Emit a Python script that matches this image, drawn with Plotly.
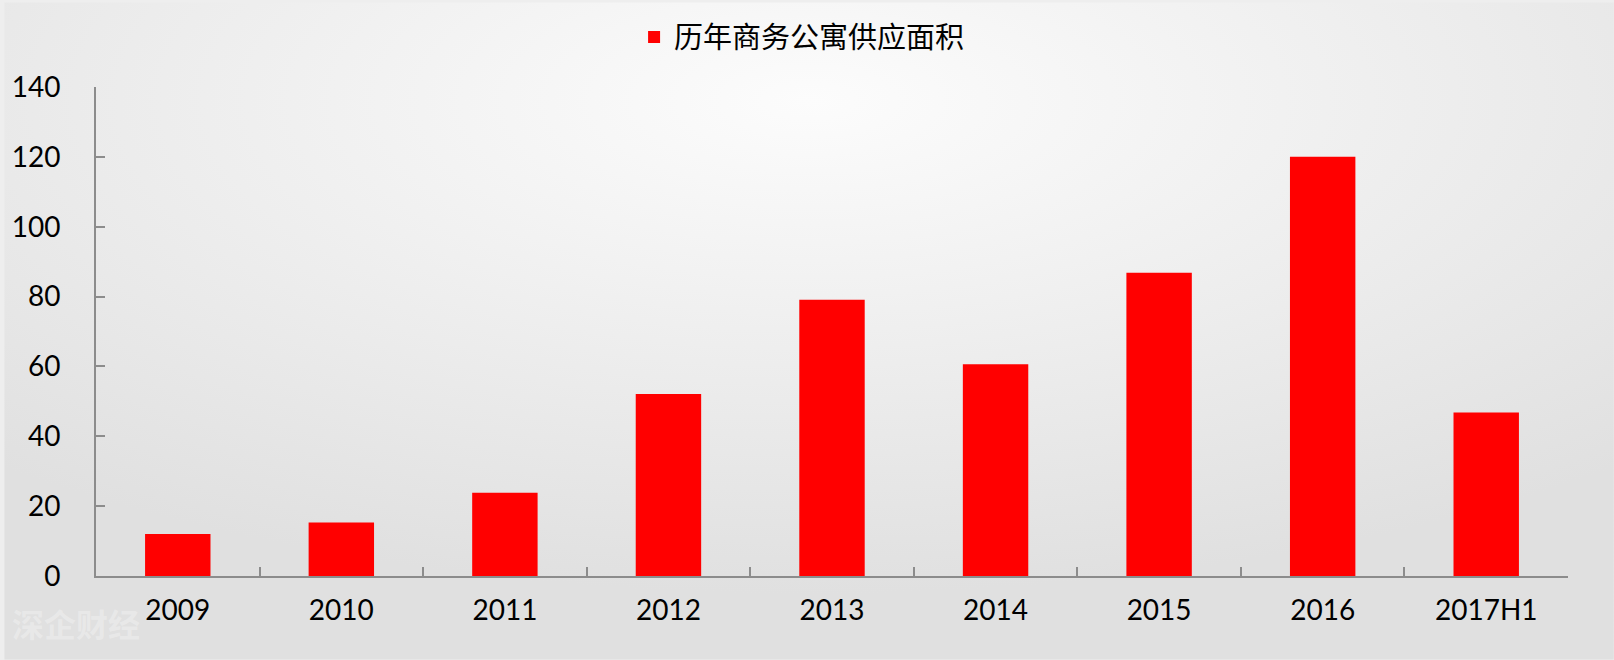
import base64
import plotly.graph_objects as go

categories = ["2009", "2010", "2011", "2012", "2013", "2014", "2015", "2016", "2017H1"]
supply_area = [12.0, 15.3, 23.8, 52.1, 79.1, 60.6, 86.8, 120.0, 46.8]
series_name = "历年商务公寓供应面积"
y_ticks = [0, 20, 40, 60, 80, 100, 120, 140]

W, H = 1614, 660
ml, mr, mt, mb = 92, 46, 85, 84
pw, ph = W - ml - mr, H - mt - mb

svg = f'''<svg xmlns="http://www.w3.org/2000/svg" width="{W}" height="{H}" viewBox="0 0 {W} {H}" preserveAspectRatio="none">
<defs><radialGradient id="g" cx="50%" cy="15%" r="75%" gradientUnits="objectBoundingBox">
<stop offset="0%" stop-color="#fcfcfc"/><stop offset="100%" stop-color="#e0e0e0"/></radialGradient></defs>
<rect width="{W}" height="{H}" fill="url(#g)"/></svg>'''
src = "data:image/svg+xml;base64," + base64.b64encode(svg.encode()).decode()

fig = go.Figure()
fig.add_trace(go.Bar(
    x=categories, y=supply_area, name=series_name,
    marker=dict(color="#ff0000", line=dict(width=0)),
    width=0.4,
))

fig.update_layout(
    width=W, height=H,
    margin=dict(l=ml, r=mr, t=mt, b=mb),
    paper_bgcolor="#eeeeee",
    plot_bgcolor="rgba(0,0,0,0)",
    showlegend=True,
    legend=dict(
        orientation="h", x=(800 - ml) / pw, xanchor="center", y=1 + 50 / ph, yanchor="middle",
        font=dict(family="Noto Sans CJK SC", size=29, color="#000000"),
        bgcolor="rgba(0,0,0,0)", itemwidth=30,
    ),
    images=[dict(
        source=src, xref="paper", yref="paper",
        x=-ml / pw, y=1 + mt / ph, sizex=W / pw, sizey=H / ph,
        xanchor="left", yanchor="top", sizing="stretch", layer="below",
    )],
    xaxis=dict(
        type="category", range=[-0.5, 8.5],
        showline=True, linecolor="#8c8c8c", linewidth=2,
        ticks="inside", tickson="boundaries", ticklen=9, tickcolor="#8c8c8c", tickwidth=2,
        showgrid=False,
        tickfont=dict(family="Lato", size=28, color="#000000"),
        ticklabelstandoff=8,
    ),
    yaxis=dict(
        range=[0, 140], tickvals=y_ticks,
        showline=True, linecolor="#8c8c8c", linewidth=2,
        ticks="inside", ticklen=9, tickcolor="#8c8c8c", tickwidth=2,
        showgrid=False, zeroline=False,
        tickfont=dict(family="Lato", size=28, color="#000000"),
        ticklabelstandoff=28,
    ),
    annotations=[dict(
        text="<b>深企财经</b>", xref="paper", yref="paper",
        x=-ml / pw + 6 / pw, y=-(623 - (H - mb)) / ph, xanchor="left", yanchor="middle",
        showarrow=False,
        font=dict(family="Noto Sans CJK SC", size=32, color="rgba(255,255,255,0.3)"),
    )],
)

fig.write_html(
    "out.html",
    config={"displayModeBar": False},
    post_script="document.body.style.margin='0';document.body.style.background='#e6e6e6';",
)
